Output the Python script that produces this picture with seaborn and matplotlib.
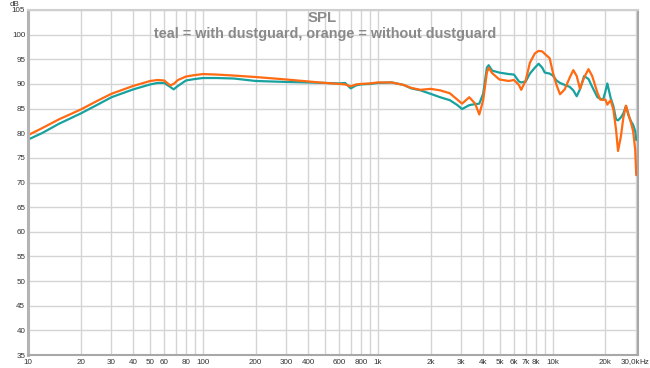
import numpy as np
import pandas as pd
import matplotlib
matplotlib.use("Agg")
import matplotlib.pyplot as plt
import seaborn as sns

freq = [10, 12, 15, 20, 25, 30, 40, 50, 55, 60, 65, 68, 72, 80, 90, 100, 120, 150, 200, 300,
        400, 500, 600, 650, 700, 750, 800, 900, 1000, 1200, 1400, 1550, 1750, 2000, 2270, 2580,
        2850, 3030, 3330, 3600, 3800, 4000, 4200, 4300, 4500, 4950, 5600, 6000, 6400, 6600,
        7000, 7400, 7900, 8300, 8700, 9000, 9600, 10000, 10500, 11000, 11700, 12500, 13100,
        13700, 14300, 15100, 16000, 16800, 18000, 18700, 19400, 20000, 20500, 21400, 22200,
        23000, 23600, 24500, 25300, 26200, 27100, 28000, 28800, 29600, 30000]

orange_db = [79.6, 81.0, 82.8, 84.8, 86.6, 88.0, 89.6, 90.6, 90.8, 90.7, 89.7, 90.0, 90.8, 91.5,
             91.8, 92.0, 91.9, 91.7, 91.4, 90.9, 90.5, 90.2, 90.0, 89.9, 89.5, 89.9, 90.0, 90.1,
             90.3, 90.3, 89.8, 89.2, 88.8, 89.0, 88.7, 88.1, 86.8, 86.0, 87.3, 86.0, 83.8, 86.7,
             92.3, 93.3, 92.2, 90.9, 90.6, 90.8, 89.8, 88.8, 90.7, 94.3, 96.2, 96.7, 96.6, 96.1,
             95.2, 92.4, 89.8, 87.9, 88.9, 91.3, 92.8, 91.6, 89.0, 91.3, 93.0, 91.6, 88.2, 86.8,
             86.8, 86.8, 85.8, 86.7, 84.8, 80.7, 76.4, 79.3, 83.1, 85.6, 83.8, 82.1, 80.4, 76.6,
             71.5]

teal_db = [78.7, 80.0, 81.9, 84.0, 85.8, 87.3, 88.9, 89.9, 90.2, 90.2, 89.4, 88.9, 89.6, 90.7,
           91.0, 91.2, 91.2, 91.1, 90.6, 90.4, 90.3, 90.2, 90.1, 90.2, 89.1, 89.7, 89.9, 90.0,
           90.2, 90.3, 89.8, 89.1, 88.7, 88.0, 87.3, 86.7, 85.7, 84.9, 85.7, 85.9, 86.0, 88.0,
           93.3, 93.8, 92.7, 92.3, 92.0, 91.9, 90.5, 90.3, 90.5, 92.1, 93.3, 94.1, 93.3, 92.3,
           92.1, 91.7, 90.7, 90.2, 89.8, 89.4, 88.7, 87.5, 88.9, 91.6, 91.0, 89.4, 87.3, 87.0,
           86.8, 88.5, 90.1, 87.2, 85.5, 82.8, 82.6, 83.2, 84.0, 85.5, 83.6, 82.4, 81.7, 80.4,
           78.6]

series_names = ["with dustguard", "without dustguard"]
series_colors = ["#17a2a0", "#ff6a12"]

grid_freqs = [10, 20, 30, 40, 50, 60, 70, 80, 90, 100, 200, 300, 400, 500, 600, 700, 800, 900,
              1000, 2000, 3000, 4000, 5000, 6000, 7000, 8000, 9000, 10000, 20000, 30000]
grid_labels = ["10", "20", "30", "40", "50", "60", "", "80", "", "100", "200", "300", "400", "",
               "600", "", "800", "", "1k", "2k", "3k", "4k", "5k", "6k", "7k", "8k", "", "10k",
               "20k", ""]
y_ticks = list(range(35, 106, 5))

df = pd.concat([
    pd.DataFrame({"freq": freq, "db": teal_db, "series": series_names[0]}),
    pd.DataFrame({"freq": freq, "db": orange_db, "series": series_names[1]}),
])

sns.set_style("white")
plt.rcParams["font.family"] = ["Liberation Sans", "DejaVu Sans"]

fig = plt.figure(figsize=(6.5, 3.68), dpi=100)
ax = fig.add_axes([28 / 650, 13 / 368, 610 / 650, 345 / 368])

sns.lineplot(data=df, x="freq", y="db", hue="series", palette=series_colors,
             hue_order=series_names, linewidth=1.6, legend=False, ax=ax, sort=False,
             estimator=None)

ax.set_xscale("log")
ax.set_xlim(10, 30700)
ax.set_ylim(35, 105)
ax.set_xticks(grid_freqs)
ax.set_xticklabels(grid_labels)
ax.xaxis.set_minor_locator(matplotlib.ticker.NullLocator())
ax.set_yticks(y_ticks)
ax.set_yticklabels([str(v) for v in y_ticks])
ax.grid(True, color="#d4d4d4", linewidth=1.0)
ax.set_axisbelow(True)
ax.tick_params(axis="both", length=0, labelsize=5.8, labelcolor="#333333")
ax.tick_params(axis="x", pad=3)
ax.tick_params(axis="y", pad=2)
ax.set_xlabel("")
ax.set_ylabel("")
ax.spines["left"].set_color("#b4b4b4")
ax.spines["left"].set_linewidth(2.2)
ax.spines["top"].set_color("#cfcfcf")
ax.spines["top"].set_linewidth(1.5)
ax.spines["bottom"].set_color("#a8a8a8")
ax.spines["bottom"].set_linewidth(1.5)
ax.spines["right"].set_color("#a8a8a8")
ax.spines["right"].set_linewidth(1.5)

fig.text(322 / 650, 1 - 17.5 / 368, "SPL", ha="center", va="center", fontsize=10.8,
         color="#8a8a8a", fontweight="bold")
fig.text(325 / 650, 1 - 34 / 368, "teal = with dustguard, orange = without dustguard",
         ha="center", va="center", fontsize=10.4, color="#8a8a8a", fontweight="bold")
fig.text(14 / 650, 1 - 4 / 368, "dB", ha="center", va="center", fontsize=5.8, color="#333333")
fig.text(630 / 650, 1 - 362 / 368, "30,0k", ha="center", va="center", fontsize=5.8,
         color="#333333")
fig.text(644 / 650, 1 - 362 / 368, "Hz", ha="center", va="center", fontsize=5.8, color="#333333")

fig.savefig("out.png", dpi=100, facecolor="white")
